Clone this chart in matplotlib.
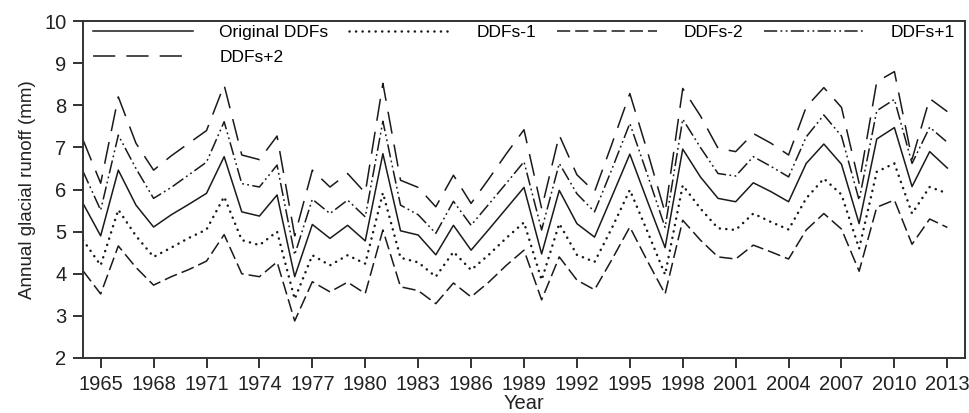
import matplotlib
matplotlib.use("Agg")
from matplotlib import pyplot as plt

plt.rcParams["font.family"] = ["Liberation Sans", "DejaVu Sans"]
plt.rcParams["lines.scale_dashes"] = False

years = list(range(1964, 2014))

ddf_orig = [5.67, 4.90, 6.46, 5.63, 5.11, 5.40, 5.65, 5.91, 6.78, 5.47,
            5.37, 5.87, 3.93, 5.17, 4.84, 5.15, 4.78, 6.85, 5.02, 4.92,
            4.45, 5.15, 4.56, 5.05, 5.55, 6.05, 4.47, 5.98, 5.19, 4.87,
            5.85, 6.84, 5.72, 4.62, 6.96, 6.30, 5.79, 5.71, 6.16, 5.95,
            5.71, 6.62, 7.08, 6.60, 5.19, 7.20, 7.47, 6.07, 6.90, 6.51]
ddf_m1 = [4.80, 4.20, 5.52, 4.90, 4.40, 4.62, 4.85, 5.05, 5.83, 4.80,
          4.68, 5.00, 3.40, 4.44, 4.20, 4.44, 4.24, 5.92, 4.38, 4.27,
          3.93, 4.52, 4.09, 4.45, 4.85, 5.22, 3.85, 5.19, 4.45, 4.28,
          5.10, 5.99, 5.00, 3.98, 6.10, 5.55, 5.08, 5.04, 5.43, 5.23,
          5.05, 5.79, 6.26, 5.88, 4.60, 6.42, 6.62, 5.43, 6.06, 5.91]
ddf_m2 = [4.07, 3.52, 4.66, 4.15, 3.73, 3.93, 4.10, 4.30, 4.93, 4.00,
          3.93, 4.28, 2.88, 3.81, 3.57, 3.80, 3.53, 5.04, 3.69, 3.60,
          3.29, 3.78, 3.45, 3.80, 4.20, 4.56, 3.38, 4.40, 3.85, 3.62,
          4.35, 5.11, 4.30, 3.52, 5.27, 4.80, 4.40, 4.35, 4.68, 4.52,
          4.35, 5.04, 5.43, 5.06, 4.06, 5.58, 5.75, 4.70, 5.30, 5.10]
ddf_p1 = [6.43, 5.51, 7.29, 6.50, 5.79, 6.05, 6.35, 6.65, 7.61, 6.14,
          6.06, 6.58, 4.45, 5.77, 5.43, 5.75, 5.35, 7.62, 5.63, 5.40,
          4.96, 5.72, 5.15, 5.65, 6.15, 6.66, 5.04, 6.62, 5.90, 5.47,
          6.50, 7.57, 6.35, 5.10, 7.67, 7.00, 6.38, 6.32, 6.78, 6.55,
          6.30, 7.25, 7.77, 7.27, 5.75, 7.87, 8.14, 6.62, 7.48, 7.12]
ddf_p2 = [7.18, 6.15, 8.20, 7.10, 6.46, 6.80, 7.10, 7.40, 8.48, 6.82,
          6.71, 7.27, 4.90, 6.46, 6.06, 6.38, 5.92, 8.52, 6.22, 6.05,
          5.59, 6.34, 5.67, 6.25, 6.85, 7.42, 5.55, 7.29, 6.35, 5.95,
          7.10, 8.28, 6.90, 5.45, 8.40, 7.75, 6.98, 6.90, 7.33, 7.10,
          6.82, 7.96, 8.42, 7.95, 6.15, 8.56, 8.80, 6.72, 8.16, 7.85]

xticks = list(range(1965, 2014, 3))

fig = plt.figure(figsize=(9.7, 4.13), dpi=100)
ax = fig.add_axes([0.0856, 0.1332, 0.9092, 0.8158])

col = "#1a1a1a"
lw = 1.1
h_orig, = ax.plot(years, ddf_orig, color=col, lw=lw, linestyle="-", label="Original DDFs")
h_m1, = ax.plot(years, ddf_m1, color=col, lw=1.8, linestyle=(0, (0.1, 4.6)),
                dash_capstyle="round", label="DDFs-1")
h_m2, = ax.plot(years, ddf_m2, color=col, lw=lw, linestyle=(0, (9.5, 3.6)), label="DDFs-2")
h_p1, = ax.plot(years, ddf_p1, color=col, lw=lw,
                linestyle=(0, (9.5, 2.4, 1.3, 2.4, 1.3, 2.4)), label="DDFs+1")
h_p2, = ax.plot(years, ddf_p2, color=col, lw=lw, linestyle=(0, (16, 8)), label="DDFs+2")

ax.set_xlim(1964, 2014)
ax.set_ylim(2, 10)
ax.set_xticks(xticks)
ax.set_yticks(range(2, 11))
ax.tick_params(direction="out", length=7, width=1.3, labelsize=14.5, colors="#222222", pad=5)
for s in ax.spines.values():
    s.set_linewidth(1.4)
    s.set_color("#333333")

ax.set_xlabel("Year", fontsize=14.5, color="#222222", labelpad=0)
ax.set_ylabel("Annual glacial runoff (mm)", fontsize=13.5, color="#222222", labelpad=6)

# legend: first row holds four entries, DDFs+2 drops to the second row
ax.legend([h_orig, h_p2, h_m1, h_m2, h_p1],
          ["Original DDFs", "DDFs+2", "DDFs-1", "DDFs-2", "DDFs+1"],
          ncol=4, loc="upper left", bbox_to_anchor=(0.011, 0.99),
          frameon=False, fontsize=12.5, handlelength=5.75, handletextpad=1.55,
          columnspacing=1.2, labelspacing=0.6, borderpad=0, borderaxespad=0)

plt.savefig("out.png", dpi=100)
